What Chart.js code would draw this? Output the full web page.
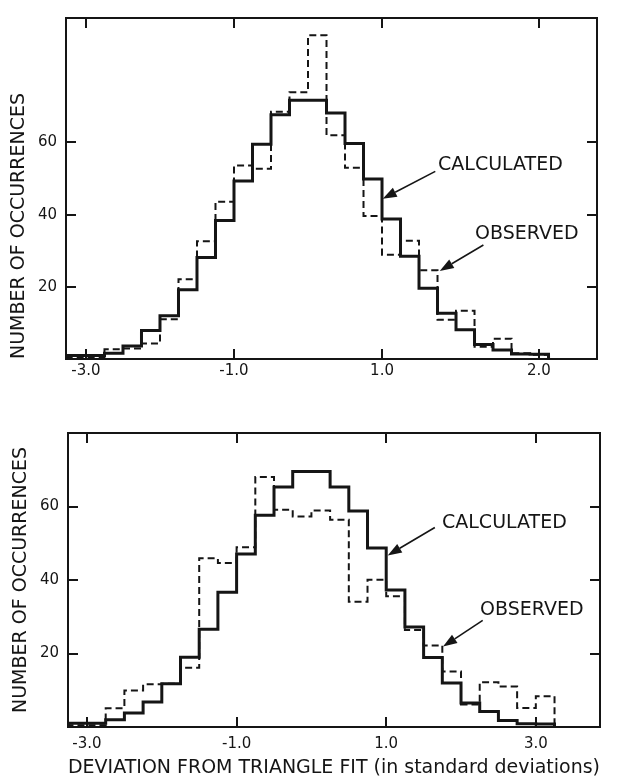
<!DOCTYPE html>
<html><head><meta charset="utf-8">
<script src="https://cdn.jsdelivr.net/npm/chart.js@4.4.1/dist/chart.umd.min.js"></script>
<style>
html,body{margin:0;padding:0;background:#fff;}
#wrap{position:relative;width:621px;height:779px;overflow:hidden;}
.box{position:absolute;left:0;}
</style></head><body>
<div id="wrap">
<div class="box" style="top:0;width:621px;height:400px"><canvas id="c1" width="621" height="400"></canvas></div>
<div class="box" style="top:400px;width:621px;height:379px"><canvas id="c2" width="621" height="379"></canvas></div>
</div>
<script>
// ---- data ----
const binEdges = [-3.25, -3.0, -2.75, -2.5, -2.25, -2.0, -1.75, -1.5, -1.25, -1.0, -0.75, -0.5, -0.25,
                  0.0, 0.25, 0.5, 0.75, 1.0, 1.25, 1.5, 1.75, 2.0, 2.25, 2.5, 2.75, 3.0, 3.25];

const topCalculated = [1.0, 1.0, 1.6, 3.6, 7.9, 12.0, 19.2, 28.1, 38.4, 49.3, 59.5, 67.7, 71.7,
                       71.7, 68.2, 59.7, 49.9, 38.8, 28.5, 19.6, 12.7, 8.1, 4.0, 2.5, 1.4, 1.3];
const topObserved   = [0.5, 0.5, 2.7, 2.9, 4.3, 11.0, 22.1, 32.6, 43.6, 53.6, 52.7, 68.5, 73.9,
                       89.7, 62.0, 53.0, 39.6, 28.9, 32.8, 24.6, 10.9, 13.4, 3.4, 5.6, 1.6, 1.2];

const bottomCalculated = [1.0, 1.0, 2.0, 3.8, 6.8, 11.8, 19.0, 26.6, 36.7, 47.1, 57.6, 65.3, 69.5,
                          69.5, 65.3, 58.8, 48.7, 37.3, 27.2, 18.9, 12.0, 6.5, 4.2, 1.8, 0.9, 0.8];
const bottomObserved   = [0.5, 0.5, 5.1, 9.9, 11.6, 11.8, 16.1, 45.9, 44.6, 48.9, 68.0, 59.1, 57.3,
                          58.9, 56.4, 34.1, 40.1, 35.6, 26.4, 22.2, 15.1, 6.1, 12.2, 11.0, 5.2, 8.4];

const topXTickValues = [-3, -1, 1, 3.12];
const topXTickLabels = ['-3.0', '-1.0', '1.0', '2.0'];
const bottomXTickValues = [-3, -1, 1, 3];
const bottomXTickLabels = ['-3.0', '-1.0', '1.0', '3.0'];
const yTickValues = [20, 40, 60];

const yTitle = 'NUMBER OF OCCURRENCES';
const xTitle = 'DEVIATION FROM TRIANGLE FIT (in standard deviations)';
const calcLabel = 'CALCULATED';
const obsLabel = 'OBSERVED';

// ---- helpers ----
const INK = '#151515';
const FONT = "'DejaVu Sans', 'Liberation Sans', sans-serif";

function histPoints(values) {
  const pts = [{x: binEdges[0], y: 0}];
  values.forEach((v, i) => {
    pts.push({x: binEdges[i], y: v});
    pts.push({x: binEdges[i + 1], y: v});
  });
  pts.push({x: binEdges[values.length], y: 0});
  return pts;
}

const framePlugin = {
  id: 'frame',
  afterDraw(chart) {
    const {ctx, chartArea: a, scales} = chart;
    ctx.save();
    ctx.strokeStyle = INK;
    ctx.lineWidth = 2;
    ctx.strokeRect(a.left, a.top, a.right - a.left, a.bottom - a.top);
    const L = 10;
    ctx.beginPath();
    scales.x.ticks.forEach(t => {
      const px = Math.round(scales.x.getPixelForValue(t.value));
      ctx.moveTo(px, a.bottom); ctx.lineTo(px, a.bottom - L);
      ctx.moveTo(px, a.top); ctx.lineTo(px, a.top + L);
    });
    scales.y.ticks.forEach(t => {
      const py = Math.round(scales.y.getPixelForValue(t.value));
      ctx.moveTo(a.left, py); ctx.lineTo(a.left + L, py);
      ctx.moveTo(a.right, py); ctx.lineTo(a.right - L, py);
    });
    ctx.stroke();
    ctx.restore();
  }
};

const notesPlugin = {
  id: 'notes',
  afterDatasetsDraw(chart, args, opts) {
    const {ctx, scales: {x, y}} = chart;
    ctx.save();
    ctx.fillStyle = INK;
    ctx.strokeStyle = INK;
    ctx.font = "19px " + FONT;
    ctx.textBaseline = 'middle';
    ctx.textAlign = 'left';
    (opts.items || []).forEach(n => {
      ctx.fillText(n.text, x.getPixelForValue(n.tx), y.getPixelForValue(n.ty));
      const x0 = x.getPixelForValue(n.ax0), y0 = y.getPixelForValue(n.ay0);
      const x1 = x.getPixelForValue(n.ax1), y1 = y.getPixelForValue(n.ay1);
      const ang = Math.atan2(y1 - y0, x1 - x0);
      const hl = 14, hw = 5;
      const bx = x1 - hl * Math.cos(ang), by = y1 - hl * Math.sin(ang);
      ctx.lineWidth = 1.6;
      ctx.beginPath(); ctx.moveTo(x0, y0); ctx.lineTo(bx, by); ctx.stroke();
      ctx.beginPath();
      ctx.moveTo(x1, y1);
      ctx.lineTo(bx + hw * Math.sin(ang), by - hw * Math.cos(ang));
      ctx.lineTo(bx - hw * Math.sin(ang), by + hw * Math.cos(ang));
      ctx.closePath(); ctx.fill();
    });
    ctx.restore();
  }
};

function makeChart(canvasId, cfg) {
  return new Chart(document.getElementById(canvasId), {
    type: 'line',
    data: {
      datasets: [
        {label: calcLabel, data: histPoints(cfg.calc), borderColor: INK, borderWidth: 3,
         pointRadius: 0, tension: 0, fill: false, borderJoinStyle: 'miter', borderCapStyle: 'butt'},
        {label: obsLabel, data: histPoints(cfg.obs), borderColor: INK, borderWidth: 2,
         borderDash: [7, 4], pointRadius: 0, tension: 0, fill: false, borderJoinStyle: 'miter', borderCapStyle: 'butt'}
      ]
    },
    options: {
      responsive: false,
      animation: false,
      events: [],
      layout: {padding: cfg.padding},
      plugins: {
        legend: {display: false},
        tooltip: {enabled: false},
        notes: {items: cfg.notes}
      },
      scales: {
        x: {
          type: 'linear', min: cfg.xMin, max: cfg.xMax,
          afterBuildTicks: s => { s.ticks = cfg.xTicks.map(v => ({value: v})); },
          afterFit: s => { s.height = cfg.xHeight; },
          grid: {display: false, drawTicks: false},
          border: {display: false},
          ticks: {
            autoSkip: false, maxRotation: 0, padding: cfg.xTickPad, color: INK,
            font: {family: FONT, size: 15},
            callback: (v, i) => cfg.xLabels[i]
          },
          title: cfg.showXTitle ? {display: true, text: xTitle, color: INK,
                   font: {family: FONT, size: 19}, padding: {top: 0, bottom: 0}} : {display: false}
        },
        y: {
          type: 'linear', min: 0, max: cfg.yMax,
          afterBuildTicks: s => { s.ticks = yTickValues.map(v => ({value: v})); },
          afterFit: s => { s.width = cfg.yWidth; },
          grid: {display: false, drawTicks: false},
          border: {display: false},
          ticks: {padding: 9, color: INK, font: {family: FONT, size: 15}, callback: v => String(v)},
          title: {display: true, text: yTitle, color: INK, align: cfg.yTitleAlign,
                  font: {family: FONT, size: 19}, padding: {top: cfg.yTitlePad, bottom: 0}}
        }
      }
    },
    plugins: [framePlugin, notesPlugin]
  });
}

makeChart('c1', {
  calc: topCalculated, obs: topObserved,
  xMin: -3.27, xMax: 3.905, yMax: 94.5,
  xTicks: topXTickValues, xLabels: topXTickLabels, xHeight: 41, xTickPad: 3, yWidth: 66,
  yTitleAlign: 'start', yTitlePad: 8, showXTitle: false,
  padding: {left: 0, right: 24, top: 14, bottom: 0},
  notes: [
    {text: calcLabel, tx: 1.757, ty: 53.7, ax0: 1.72, ay0: 52.0, ax1: 1.01, ay1: 44.4},
    {text: obsLabel, tx: 2.257, ty: 34.5, ax0: 2.37, ay0: 31.6, ax1: 1.78, ay1: 24.4}
  ]
});

makeChart('c2', {
  calc: bottomCalculated, obs: bottomObserved,
  xMin: -3.254, xMax: 3.858, yMax: 80,
  xTicks: bottomXTickValues, xLabels: bottomXTickLabels, xHeight: 52, xTickPad: 8, yWidth: 68,
  yTitleAlign: 'center', yTitlePad: 10, showXTitle: true,
  padding: {left: 0, right: 21, top: 33, bottom: 0},
  notes: [
    {text: calcLabel, tx: 1.746, ty: 55.4, ax0: 1.65, ay0: 54.3, ax1: 1.02, ay1: 46.7},
    {text: obsLabel, tx: 2.254, ty: 31.7, ax0: 2.29, ay0: 29.0, ax1: 1.76, ay1: 21.9}
  ]
});
</script>
</body></html>
